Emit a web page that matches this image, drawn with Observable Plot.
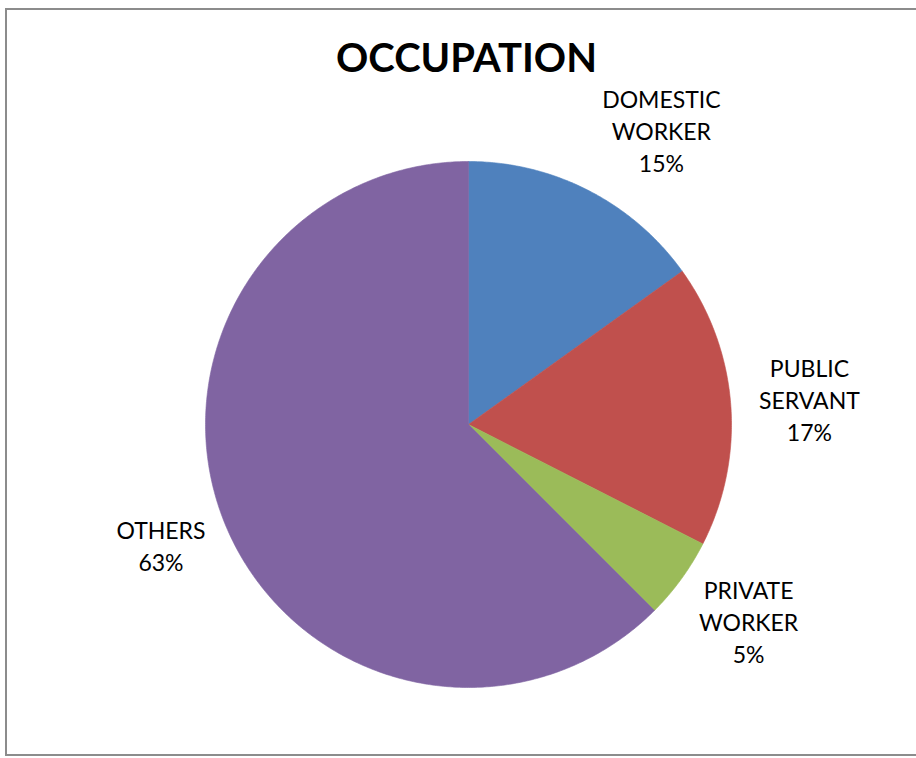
<!DOCTYPE html>
<html><head><meta charset="utf-8">
<script src="https://cdn.jsdelivr.net/npm/d3@7"></script>
<script src="https://cdn.jsdelivr.net/npm/@observablehq/plot@0.6"></script>
<style>
body{margin:0;overflow:hidden;background:#fff}
#wrap{position:relative;width:916px;height:758px;overflow:hidden}
#frame{position:absolute;left:5px;top:8px;width:1000px;height:748px;border:2px solid #8c8c8c;box-sizing:border-box}
#chart{position:absolute;left:0;top:0}
</style>
</head><body>
<div id="wrap"><div id="frame"></div><div id="chart"></div></div>
<script>
// ---- data ----
const title = "OCCUPATION";
const categories = ["DOMESTIC WORKER", "PUBLIC SERVANT", "PRIVATE WORKER", "OTHERS"];
const labelLines = [["DOMESTIC", "WORKER"], ["PUBLIC", "SERVANT"], ["PRIVATE", "WORKER"], ["OTHERS"]];
const shares = [15.1, 17.4, 5.0, 62.5];
const colors = ["#4F81BD", "#C0504D", "#9BBB59", "#8064A2"];

// ---- layout ----
const W = 916, H = 758, cx = 468, cy = 424, R = 263;
const labelRadius = 1.3;
const labelTweak = {
  "DOMESTIC WORKER": {shift: 6, radius: 1.34},
  "PRIVATE WORKER": {shift: -1, radius: 1.3},
  "OTHERS": {shift: 1.2, radius: 1.255}
};

const total = d3.sum(shares);
const wedges = [];
const labels = [];
let start = 0;
categories.forEach((cat, i) => {
  const sweep = shares[i] / total * 360;
  const end = start + sweep;
  const n = Math.max(2, Math.ceil(sweep * 2));
  wedges.push({cat, x: 0, y: 0});
  for (let k = 0; k <= n; k++) {
    const a = (start + sweep * k / n) * Math.PI / 180;
    wedges.push({cat, x: Math.sin(a), y: Math.cos(a)});
  }
  wedges.push({cat, x: 0, y: 0});
  const tw = labelTweak[cat] || {shift: 0, radius: labelRadius};
  const mid = (start + sweep / 2 + tw.shift) * Math.PI / 180;
  labels.push({
    cat,
    x: Math.sin(mid) * tw.radius,
    y: Math.cos(mid) * tw.radius,
    text: [...labelLines[i], Math.round(shares[i]) + "%"].join("\n")
  });
  start = end;
});

const plot = Plot.plot({
  width: W, height: H,
  margin: 0,
  style: {fontFamily: "Lato, 'Open Sans', sans-serif", background: "transparent", overflow: "visible"},
  x: {domain: [-cx / R, (W - cx) / R], range: [0, W], axis: null},
  y: {domain: [-(H - cy) / R, cy / R], range: [H, 0], axis: null},
  color: {domain: categories, range: colors},
  marks: [
    Plot.line(wedges, {x: "x", y: "y", z: "cat", fill: "cat", stroke: "cat", strokeWidth: 0.6, curve: "linear"}),
    Plot.text(labels, {x: "x", y: "y", text: "text", fontSize: 23, lineHeight: 1.39, fill: "#000"}),
    Plot.text([title], {frameAnchor: "top", lineAnchor: "middle", dx: 8, dy: 59, fontSize: 40, fontWeight: "bold", fill: "#000"})
  ]
});
document.getElementById("chart").appendChild(plot);
</script>
</body></html>
